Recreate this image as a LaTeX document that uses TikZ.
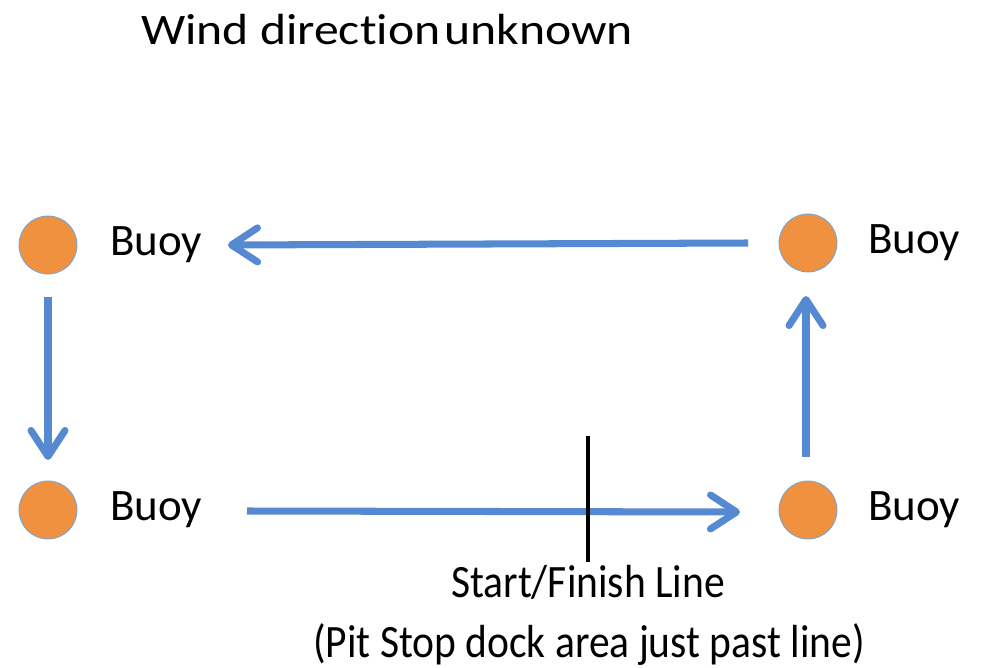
\documentclass[tikz,border=0pt]{standalone}
\usepackage{fontspec}
\usepackage{graphicx}
\setmainfont{Carlito}[Ligatures=NoCommon]
\usetikzlibrary{arrows.meta}
\definecolor{buoyorange}{RGB}{240,145,64}
\definecolor{buoyedge}{RGB}{110,165,220}
\definecolor{courseblue}{RGB}{85,138,211}

\begin{document}
\begin{tikzpicture}[x=0.025cm,y=-0.025cm,
		buoy/.style={circle,fill=buoyorange,draw=buoyedge,line width=0.6pt,minimum size=1.45cm,inner sep=0pt},
		buoylabel/.style={anchor=west,inner sep=0pt,font=\fontsize{32}{37}\selectfont},
		course/.style={courseblue,line width=5pt,-{Straight Barb[length=6.5mm,width=8.5mm,round]}}]
			%%%%% START %%%%%
			\useasboundingbox (0,0) rectangle (984,668);
			
			\node[inner sep=0pt,font=\fontsize{31}{36}\selectfont] (title) at (387,30) {\scalebox{1.14}[1]{Wind direction\hspace{0.08em}unknown}};
			
			\node[buoy] (tl) at (48,245) {};
			\node[buoy] (tr) at (808,243) {};
			\node[buoy] (bl) at (48,510) {};
			\node[buoy] (br) at (808,510) {};
			
			\node[buoylabel] (tllabel) at (110,245) {Buoy};
			\node[buoylabel] (trlabel) at (868,243) {Buoy};
			\node[buoylabel] (bllabel) at (110,510) {Buoy};
			\node[buoylabel] (brlabel) at (868,510) {Buoy};
			
			\coordinate (topstart) at (748,243);
			\coordinate (topend) at (228,245);
			\coordinate (leftstart) at (48,297);
			\coordinate (leftend) at (48,460);
			\coordinate (botstart) at (247,511);
			\coordinate (botend) at (740,512);
			\coordinate (rightstart) at (806,457);
			\coordinate (rightend) at (806,296);
			
			\draw[course] (topstart) -- (topend);
			\draw[course] (leftstart) -- (leftend);
			\draw[course] (botstart) -- (botend);
			\draw[course] (rightstart) -- (rightend);
			
			\coordinate (linetop) at (588,436);
			\coordinate (linebot) at (588,562);
			\draw[line width=2.8pt] (linetop) -- (linebot);
			
			\node[inner sep=0pt,font=\fontsize{33}{38}\selectfont] (startlabel) at (588,582) {\scalebox{0.895}[1]{Start/Finish Line}};
			\node[inner sep=0pt,font=\fontsize{33}{38}\selectfont] (pitlabel) at (589,644) {\scalebox{0.895}[1]{(Pit Stop dock area just past line)}};
			%%%%% END %%%%%
\end{tikzpicture}
\end{document}
